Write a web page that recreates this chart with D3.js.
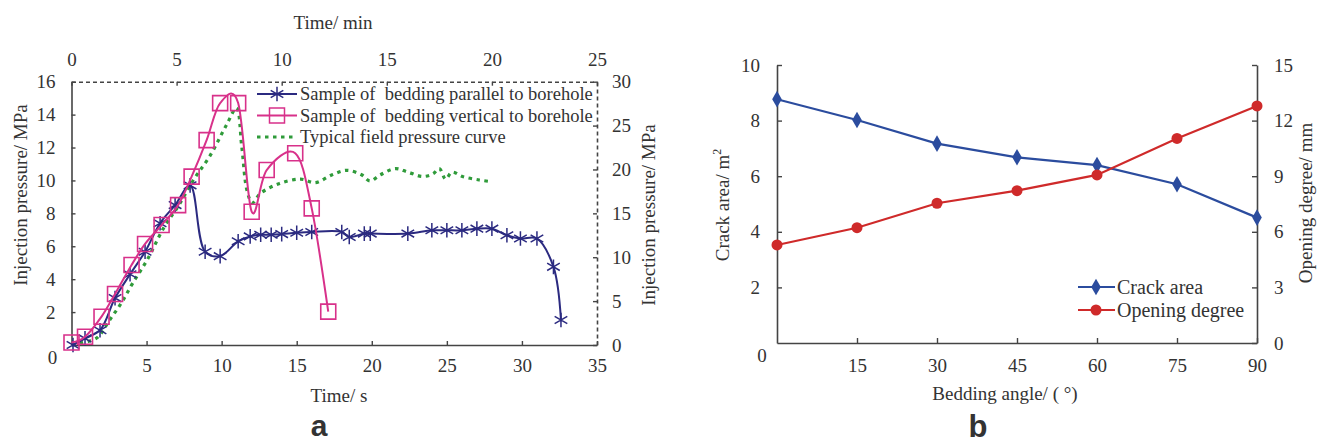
<!DOCTYPE html>
<html>
<head>
<meta charset="utf-8">
<script src="https://cdn.jsdelivr.net/npm/d3@7"></script>
<style>
  body { margin: 0; background: #fff; }
  text { font-family: 'Liberation Serif', 'Times New Roman', serif; fill: #333; white-space: pre; }
</style>
</head>
<body>
<svg id="chart" width="1320" height="443"></svg>
<script>
// ---- panel a data ----
// bedding parallel to borehole (time s, pressure MPa, left axis)
const parallelTime = [0.1, 0.9, 1.9, 2.9, 3.9, 4.9, 5.9, 6.9, 7.9, 8.9, 9.9, 11.1, 11.9, 12.6, 13.3, 14, 15, 16, 18, 18.5, 19.5, 19.9, 22.4, 24, 25, 26, 27, 28, 29, 29.9, 31, 32.1, 32.6];
const parallelPress = [0, 0.4, 0.9, 2.85, 4.3, 5.67, 7.4, 8.5, 9.7, 5.67, 5.4, 6.3, 6.6, 6.7, 6.7, 6.74, 6.82, 6.87, 6.87, 6.56, 6.77, 6.77, 6.77, 6.97, 6.97, 6.97, 7.07, 7.07, 6.67, 6.47, 6.47, 4.75, 1.52];
// bedding vertical to borehole (time s, pressure MPa, left axis)
const verticalTime = [0, 0.9, 2.0, 2.9, 4.0, 4.9, 6.0, 7.1, 8.0, 9.0, 9.9, 11.1, 12.0, 13.0, 14.9, 16.0, 17.1];
const verticalPress = [0.15, 0.5, 1.72, 3.1, 4.86, 6.14, 7.29, 8.5, 10.23, 12.45, 14.7, 14.7, 8.1, 10.63, 11.65, 8.3, 2.03];
// typical field curve (time min, pressure MPa, right axis)
const fieldTime = [0.4, 1.2, 1.8, 2.4, 2.9, 3.6, 4.4, 5.1, 5.8, 6.6, 7.4, 7.85, 8.1, 8.35, 8.6, 9.0, 9.9, 10.9, 11.6, 12.4, 13.1, 13.8, 14.2, 14.7, 15.4, 16.0, 16.7, 17.2, 17.5, 17.8, 18.1, 18.6, 19.4, 20.0];
const fieldPress = [0.2, 0.8, 2.8, 4.9, 7.0, 9.7, 13.4, 15.9, 18.8, 21.6, 25.2, 27.0, 22.6, 17.6, 16.2, 17.3, 18.4, 18.9, 18.5, 19.4, 19.9, 19.4, 18.7, 19.4, 20.1, 19.7, 19.2, 19.5, 20.1, 18.9, 19.7, 19.2, 18.8, 18.6];
const legendA = ['Sample of  bedding parallel to borehole', 'Sample of  bedding vertical to borehole', 'Typical field pressure curve'];
const ticksSec = [5, 10, 15, 20, 25, 30, 35];
const ticksMin = [0, 5, 10, 15, 20, 25];
const ticksLeftA = [2, 4, 6, 8, 10, 12, 14, 16];
const ticksRightA = [0, 5, 10, 15, 20, 25, 30];

// ---- panel b data ----
const beddingAngle = [0, 15, 30, 45, 60, 75, 90];
const crackArea = [8.77, 8.02, 7.17, 6.68, 6.40, 5.71, 4.51];
const openingDegree = [5.29, 6.22, 7.54, 8.22, 9.07, 11.04, 12.79];
const legendB = ['Crack area', 'Opening degree'];
const ticksLeftB = [2, 4, 6, 8, 10];
const ticksRightB = [0, 3, 6, 9, 12, 15];
const ticksAngle = [15, 30, 45, 60, 75, 90];

const svg = d3.select('#chart');
const axisColor = '#444';
const tickFont = 19;

const styleAxis = (g, dashed) => {
    g.select('.domain').attr('stroke', axisColor).attr('stroke-width', 1.6)
        .attr('stroke-dasharray', dashed ? '4,3' : null);
    g.selectAll('.tick line').attr('stroke', axisColor).attr('stroke-width', 1.4);
    g.selectAll('.tick text').attr('font-size', tickFont).attr('fill', '#333')
        .style('font-family', "'Liberation Serif','Times New Roman',serif");
};

// ================= panel a =================
const A = { left: 71.5, right: 597, top: 81.7, bottom: 345 };
const xSec = d3.scaleLinear().domain([0, 35]).range([A.left, A.right]);
const xMin = d3.scaleLinear().domain([0, 25]).range([A.left, A.right]);
const yLeftA = d3.scaleLinear().domain([0, 16]).range([A.bottom, A.top]);
const yRightA = d3.scaleLinear().domain([0, 30]).range([A.bottom, A.top]);

svg.append('g').attr('transform', `translate(0,${A.bottom})`)
    .call(d3.axisBottom(xSec).tickValues(ticksSec).tickSize(-4).tickSizeOuter(0).tickPadding(14))
    .call(g => styleAxis(g, false));
svg.append('g').attr('transform', `translate(0,${A.top})`)
    .call(d3.axisTop(xMin).tickValues(ticksMin).tickSize(-4).tickSizeOuter(0).tickPadding(16))
    .call(g => styleAxis(g, true));
svg.append('g').attr('transform', `translate(${A.left},0)`)
    .call(d3.axisLeft(yLeftA).tickValues(ticksLeftA).tickSize(-4).tickSizeOuter(0).tickPadding(16))
    .call(g => styleAxis(g, false));
svg.append('g').attr('transform', `translate(${A.right},0)`)
    .call(d3.axisRight(yRightA).tickValues(ticksRightA).tickSize(-4).tickSizeOuter(0).tickPadding(15))
    .call(g => styleAxis(g, true));

svg.append('text').attr('x', xSec(0) - 19).attr('y', yLeftA(0) + 19)
    .attr('text-anchor', 'middle').attr('font-size', tickFont).text('0');

// titles a
svg.append('text').attr('x', 333).attr('y', 29).attr('text-anchor', 'middle').attr('font-size', 19).text('Time/ min');
svg.append('text').attr('x', 339).attr('y', 402).attr('text-anchor', 'middle').attr('font-size', 19).text('Time/ s');
svg.append('text').attr('transform', 'translate(27,195) rotate(-90)').attr('text-anchor', 'middle').attr('font-size', 19).text('Injection pressure/ MPa');
svg.append('text').attr('transform', 'translate(655,215) rotate(-90)').attr('text-anchor', 'middle').attr('font-size', 19).text('Injection pressure/ MPa');
svg.append('text').attr('x', 319).attr('y', 436).attr('text-anchor', 'middle')
    .attr('font-size', 30).attr('font-weight', 'bold').style('font-family', "'Liberation Sans', Arial, sans-serif")
    .attr('fill', '#000').text('a');

const blueA = '#2b2a80', pinkA = '#d8318a', greenA = '#2f9b3a';
const starSym = d3.symbol(d3.symbolAsterisk, 150);
const squareSym = d3.symbol(d3.symbolSquare, 225);

const parallel = parallelTime.map((t, i) => [t, parallelPress[i]]);
const vertical = verticalTime.map((t, i) => [t, verticalPress[i]]);
const field = fieldTime.map((t, i) => [t, fieldPress[i]]);

svg.append('path').datum(field)
    .attr('fill', 'none').attr('stroke', greenA).attr('stroke-width', 3.2)
    .attr('stroke-dasharray', '3.5,4.5')
    .attr('d', d3.line().x(d => xMin(d[0])).y(d => yRightA(d[1])).curve(d3.curveCatmullRom.alpha(0.5)));

svg.append('path').datum(parallel)
    .attr('fill', 'none').attr('stroke', blueA).attr('stroke-width', 2)
    .attr('d', d3.line().x(d => xSec(d[0])).y(d => yLeftA(d[1])).curve(d3.curveCatmullRom.alpha(0.5)));
svg.append('g').selectAll('path').data(parallel).join('path')
    .attr('transform', d => `translate(${xSec(d[0])},${yLeftA(d[1])})`)
    .attr('d', starSym).attr('fill', 'none').attr('stroke', blueA).attr('stroke-width', 1.5);

svg.append('path').datum(vertical)
    .attr('fill', 'none').attr('stroke', pinkA).attr('stroke-width', 2)
    .attr('d', d3.line().x(d => xSec(d[0])).y(d => yLeftA(d[1])).curve(d3.curveCatmullRom.alpha(0)));
svg.append('g').selectAll('path').data(vertical).join('path')
    .attr('transform', d => `translate(${xSec(d[0])},${yLeftA(d[1])})`)
    .attr('d', squareSym).attr('fill', 'none').attr('stroke', pinkA).attr('stroke-width', 1.6);

// legend a
const legA = svg.append('g').attr('transform', 'translate(257,94)');
legendA.forEach((label, i) => {
    const row = legA.append('g').attr('transform', `translate(0,${i * 21.5})`);
    if (i === 2) {
        row.append('line').attr('x1', 0).attr('x2', 40).attr('stroke', greenA)
            .attr('stroke-width', 3.2).attr('stroke-dasharray', '3.5,4.5');
    } else {
        const c = i === 0 ? blueA : pinkA;
        row.append('line').attr('x1', 0).attr('x2', 40).attr('stroke', c).attr('stroke-width', 2);
        row.append('path').attr('transform', 'translate(20,0)')
            .attr('d', i === 0 ? starSym : squareSym).attr('fill', 'none')
            .attr('stroke', c).attr('stroke-width', 1.5);
    }
    row.append('text').attr('x', 43).attr('y', 6).attr('font-size', 18.5).text(label);
});

// ================= panel b =================
const B = { left: 777, right: 1257, top: 65, bottom: 343 };
const xAng = d3.scaleLinear().domain([0, 90]).range([B.left, B.right]);
const yArea = d3.scaleLinear().domain([0, 10]).range([B.bottom, B.top]);
const yOpen = d3.scaleLinear().domain([0, 15]).range([B.bottom, B.top]);

svg.append('g').attr('transform', `translate(0,${B.bottom})`)
    .call(d3.axisBottom(xAng).tickValues(ticksAngle).tickSize(-5).tickSizeOuter(0).tickPadding(16))
    .call(g => styleAxis(g, false));
svg.append('g').attr('transform', `translate(${B.left},0)`)
    .call(d3.axisLeft(yArea).tickValues(ticksLeftB).tickSize(-5).tickSizeOuter(0).tickPadding(17))
    .call(g => styleAxis(g, false));
svg.append('g').attr('transform', `translate(${B.right},0)`)
    .call(d3.axisRight(yOpen).tickValues(ticksRightB).tickSize(-5).tickSizeOuter(0).tickPadding(17))
    .call(g => styleAxis(g, false));

svg.append('text').attr('x', xAng(0) - 15).attr('y', yArea(0) + 19)
    .attr('text-anchor', 'middle').attr('font-size', tickFont).text('0');

const areaTitle = svg.append('text').attr('transform', 'translate(729,205) rotate(-90)')
    .attr('text-anchor', 'middle').attr('font-size', 19);
areaTitle.append('tspan').text('Crack area/ m');
areaTitle.append('tspan').attr('font-size', 12).attr('dy', -8).text('2');
svg.append('text').attr('transform', 'translate(1312,203) rotate(-90)').attr('text-anchor', 'middle').attr('font-size', 19).text('Opening degree/ mm');
svg.append('text').attr('x', 1005).attr('y', 400).attr('text-anchor', 'middle').attr('font-size', 19).text('Bedding angle/ ( °)');
svg.append('text').attr('x', 978).attr('y', 437).attr('text-anchor', 'middle')
    .attr('font-size', 31).attr('font-weight', 'bold').style('font-family', "'Liberation Sans', Arial, sans-serif")
    .attr('fill', '#000').text('b');

const blueB = '#2b4c9e', redB = '#cf2a2a';
const diamondSym = d3.symbol(d3.symbolDiamond, 80);
const circleSym = d3.symbol(d3.symbolCircle, 95);

const areaPts = beddingAngle.map((a, i) => [a, crackArea[i]]);
const openPts = beddingAngle.map((a, i) => [a, openingDegree[i]]);

svg.append('path').datum(areaPts).attr('fill', 'none').attr('stroke', blueB).attr('stroke-width', 2.2)
    .attr('d', d3.line().x(d => xAng(d[0])).y(d => yArea(d[1])));
svg.append('g').selectAll('path').data(areaPts).join('path')
    .attr('transform', d => `translate(${xAng(d[0])},${yArea(d[1])})`).attr('d', diamondSym).attr('fill', blueB);

svg.append('path').datum(openPts).attr('fill', 'none').attr('stroke', redB).attr('stroke-width', 2.2)
    .attr('d', d3.line().x(d => xAng(d[0])).y(d => yOpen(d[1])));
svg.append('g').selectAll('path').data(openPts).join('path')
    .attr('transform', d => `translate(${xAng(d[0])},${yOpen(d[1])})`).attr('d', circleSym).attr('fill', redB);

const legB = svg.append('g').attr('transform', 'translate(1078,287)');
legendB.forEach((label, i) => {
    const c = i === 0 ? blueB : redB;
    const row = legB.append('g').attr('transform', `translate(0,${i * 23})`);
    row.append('line').attr('x1', 0).attr('x2', 37).attr('stroke', c).attr('stroke-width', 2.2);
    row.append('path').attr('transform', 'translate(18,0)').attr('d', i === 0 ? diamondSym : circleSym).attr('fill', c);
    row.append('text').attr('x', 39).attr('y', 7).attr('font-size', 20).text(label);
});
</script>
</body>
</html>
